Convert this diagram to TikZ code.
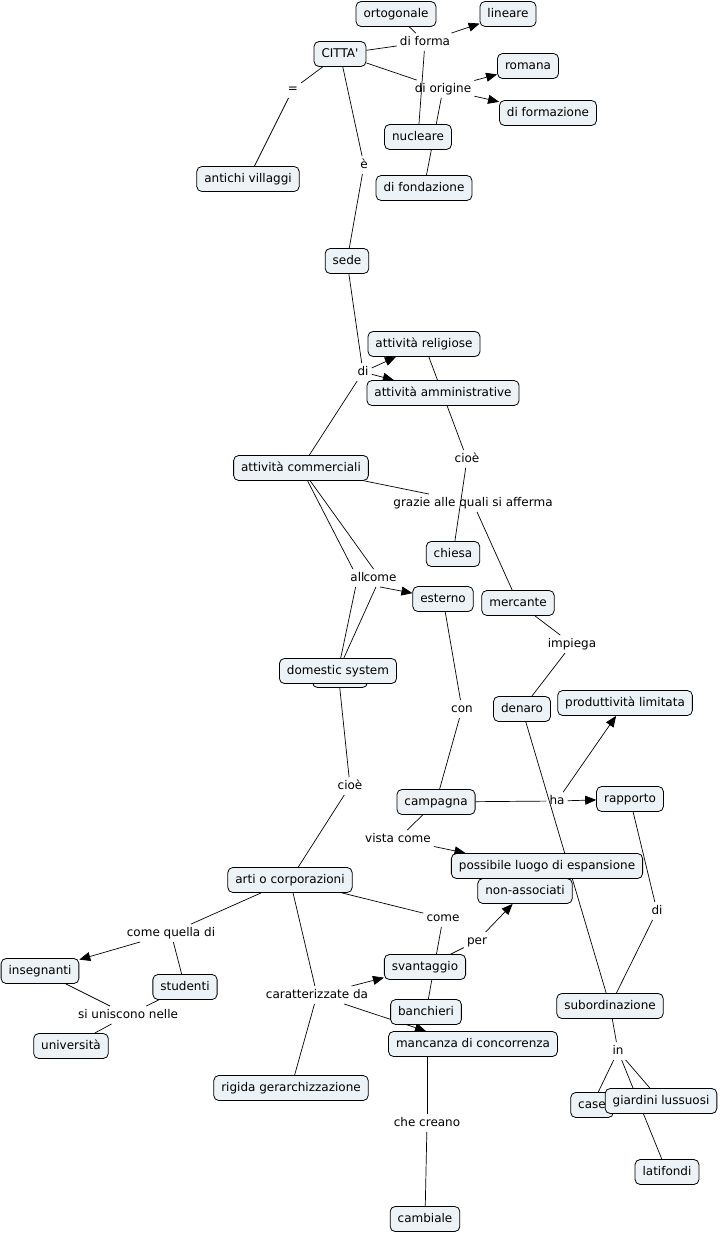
\documentclass[tikz,border=0pt]{standalone}
\usepackage{fontspec}
\newfontfamily\mapfont{DejaVu Sans}
\usetikzlibrary{arrows.meta,backgrounds}
\definecolor{boxfill}{RGB}{236,242,245}

\begin{document}
\begin{tikzpicture}[
  x=1pt,y=-1pt,
  font=\mapfont\fontsize{12}{14}\selectfont,
  concept/.style={draw,rounded corners=5pt,fill=boxfill,line width=.8pt,
    minimum height=25pt,inner xsep=7.5pt,inner ysep=2pt,
    text height=9pt,text depth=2.5pt},
  phrase/.style={inner sep=3pt,text height=9pt,text depth=2.5pt},
  ln/.style={line width=.7pt},
  arr/.style={ln,-{Triangle[length=11pt,width=9pt]}}
]
\useasboundingbox (0,0) rectangle (720,1233);
% concepts
\node[concept] (ortogonale) at (396,14) {ortogonale};
\node[concept] (lineare) at (508,14) {lineare};
\node[concept] (citta) at (340,54) {CITTA'};
\node[concept] (romana) at (528,66) {romana};
\node[concept] (formazione) at (548,113) {di formazione};
\node[concept] (nucleare) at (418,137) {nucleare};
\node[concept] (fondazione) at (424,188) {di fondazione};
\node[concept] (villaggi) at (248,179) {antichi villaggi};
\node[concept] (sede) at (347,261) {sede};
\node[concept] (religiose) at (424,344) {attività religiose};
\node[concept] (amministr) at (443,393) {attività amministrative};
\node[concept] (commerciali) at (301,468) {attività commerciali};
\node[concept] (chiesa) at (453,554) {chiesa};
\node[concept] (esterno) at (443,599) {esterno};
\node[concept] (mercante) at (518,603) {mercante};
\node[concept,minimum width=55pt] (domback) at (340,675) {};
\node[concept] (domestic) at (338,671) {domestic system};
\node[concept] (denaro) at (522,709) {denaro};
\node[concept] (produttivita) at (625,703) {produttività limitata};
\node[concept] (campagna) at (436,802) {campagna};
\node[concept] (rapporto) at (630,799) {rapporto};
\node[concept] (luogo) at (547,866) {possibile luogo di espansione};
\node[concept] (nonassociati) at (525,891) {non-associati};
\node[concept] (arti) at (290,880) {arti o corporazioni};
\node[concept] (insegnanti) at (40,971) {insegnanti};
\node[concept] (studenti) at (185,987) {studenti};
\node[concept] (svantaggio) at (425,967) {svantaggio};
\node[concept] (banchieri) at (426,1012) {banchieri};
\node[concept] (mancanza) at (473,1044) {mancanza di concorrenza};
\node[concept] (universita) at (71,1046) {università};
\node[concept] (subordinazione) at (610,1006) {subordinazione};
\node[concept] (rigida) at (291,1088) {rigida gerarchizzazione};
\node[concept] (case) at (592,1105) {case};
\node[concept] (giardini) at (661,1101) {giardini lussuosi};
\node[concept] (latifondi) at (667,1172) {latifondi};
\node[concept] (cambiale) at (425,1219) {cambiale};
% linking phrases
\node[phrase] (lforma) at (425,42) {di forma};
\node[phrase] (lorigine) at (443,89) {di origine};
\node[phrase] (luguale) at (293,89) {=};
\node[phrase] (le) at (364,165) {è};
\node[phrase] (ldi) at (363,372) {di};
\node[phrase] (lcioeA) at (467,459) {cioè};
\node[phrase] (lgrazie) at (473,503) {grazie alle quali si afferma};
\node[phrase] (lall) at (357.5,578) {all};
\node[phrase] (lcomeA) at (380,578) {come};
\node[phrase] (limpiega) at (572,644) {impiega};
\node[phrase] (lcon) at (462,709) {con};
\node[phrase] (lcioeB) at (350,786) {cioè};
\node[phrase] (lha) at (557,801) {ha};
\node[phrase] (lvista) at (398,839) {vista come};
\node[phrase] (ldiB) at (657,911) {di};
\node[phrase] (lquella) at (171,933) {come quella di};
\node[phrase] (lcomeB) at (443,918) {come};
\node[phrase] (lper) at (477,941) {per};
\node[phrase] (lcaratt) at (317,995) {caratterizzate da};
\node[phrase] (lunisc) at (128,1015) {si uniscono nelle};
\node[phrase] (lin) at (618,1051) {in};
\node[phrase] (lcreano) at (427,1123) {che creano};
% links
\begin{scope}[on background layer]
\draw[ln] (citta) -- (lforma);
\draw[arr] (lforma) -- (lineare);
\draw[ln] (lforma) -- (ortogonale);
\draw[ln] (lforma) -- (nucleare);
\draw[ln] (citta) -- (lorigine);
\draw[arr] (lorigine) -- (romana);
\draw[arr] (lorigine) -- (formazione);
\draw[ln] (lorigine) -- (fondazione);
\draw[ln] (citta) -- (luguale);
\draw[ln] (luguale) -- (villaggi);
\draw[ln] (citta) -- (le);
\draw[ln] (le) -- (sede);
\draw[ln] (sede) -- (ldi);
\draw[arr] (ldi) -- (religiose);
\draw[arr] (ldi) -- (amministr);
\draw[ln] (commerciali) -- (ldi);
\draw[ln] (religiose) -- (lcioeA);
\draw[ln] (lcioeA) -- (chiesa);
\draw[ln] (commerciali) -- (lgrazie);
\draw[ln] (lgrazie) -- (mercante);
\draw[ln] (commerciali) -- (lall);
\draw[ln] (lall) -- (domestic);
\draw[ln] (commerciali) -- (lcomeA);
\draw[arr] (lcomeA.south) -- (esterno);
\draw[ln] (lcomeA) -- (domestic);
\draw[ln] (mercante) -- (limpiega);
\draw[ln] (limpiega) -- (denaro);
\draw[ln] (esterno) -- (lcon);
\draw[ln] (lcon) -- (campagna);
\draw[ln] (domestic) -- (lcioeB);
\draw[ln] (lcioeB) -- (arti);
\draw[ln] (campagna) -- (lha);
\draw[arr] (lha) -- (rapporto);
\draw[arr] (lha) -- (produttivita);
\draw[ln] (campagna) -- (lvista);
\draw[arr] (lvista) -- (luogo.171);
\draw[ln] (denaro) -- (subordinazione);
\draw[ln] (rapporto) -- (ldiB);
\draw[ln] (ldiB) -- (subordinazione);
\draw[ln] (arti) -- (lquella);
\draw[arr] (lquella) -- (insegnanti);
\draw[ln] (lquella) -- (studenti);
\draw[ln] (insegnanti) -- (lunisc);
\draw[ln] (studenti) -- (lunisc);
\draw[ln] (lunisc) -- (universita);
\draw[ln] (arti) -- (lcaratt);
\draw[arr] (lcaratt) -- (svantaggio);
\draw[arr] (lcaratt) -- (banchieri |- mancanza.north);
\draw[ln] (lcaratt) -- (rigida);
\draw[ln] (arti) -- (lcomeB);
\draw[ln] (lcomeB) -- (banchieri);
\draw[ln] (svantaggio) -- (lper);
\draw[arr] (lper) -- (nonassociati);
\draw[ln] (lcreano.north) -- (lcreano.north |- mancanza.south);
\draw[ln] (lcreano) -- (cambiale);
\draw[ln] (subordinazione) -- (lin);
\draw[ln] (lin) -- (case);
\draw[ln] (lin) -- (giardini);
\draw[ln] (lin) -- (latifondi);
\end{scope}
\end{tikzpicture}
\end{document}
